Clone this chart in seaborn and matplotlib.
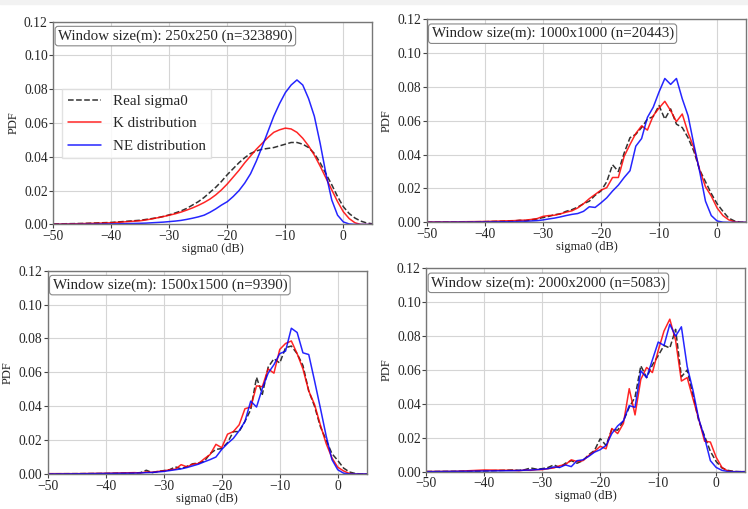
import numpy as np
import pandas as pd
import matplotlib
matplotlib.use("Agg")
import matplotlib.pyplot as plt
import seaborn as sns

# sigma0 grid (dB) shared by all panels
sigma0_db = [-50, -45, -40] + list(range(-35, 6))

titles = [
    "Window size(m): 250x250 (n=323890)",
    "Window size(m): 1000x1000 (n=20443)",
    "Window size(m): 1500x1500 (n=9390)",
    "Window size(m): 2000x2000 (n=5083)",
]

# --- 250x250 ---
real_250 = [0.0003, 0.0006, 0.0012, 0.0025, 0.003, 0.0035, 0.004, 0.0048, 0.0057, 0.0068,
            0.008, 0.0095, 0.0115, 0.0135, 0.016, 0.019, 0.022, 0.0255, 0.0295, 0.033,
            0.0365, 0.0395, 0.042, 0.0435, 0.0445, 0.045, 0.0455, 0.0465, 0.0475, 0.0485,
            0.0485, 0.0475, 0.0455, 0.042, 0.0365, 0.03, 0.0235, 0.0165, 0.0105, 0.0065,
            0.0038, 0.002, 0.0009, 0.0004]
k_250 = [0.0002, 0.0005, 0.001, 0.0022, 0.0027, 0.0033, 0.004, 0.0047, 0.0055, 0.0063,
         0.0073, 0.0085, 0.0098, 0.0113, 0.013, 0.015, 0.0175, 0.0205, 0.024, 0.028,
         0.032, 0.0365, 0.0405, 0.0445, 0.048, 0.0515, 0.0545, 0.056, 0.057, 0.0565,
         0.0545, 0.051, 0.0465, 0.041, 0.0345, 0.0275, 0.0205, 0.0135, 0.0075, 0.0035,
         0.001, 0.0, 0.0, 0.0]
ne_250 = [0.0, 0.0001, 0.0003, 0.0007, 0.0008, 0.001, 0.0012, 0.0014, 0.0017, 0.002,
          0.0024, 0.003, 0.0037, 0.0045, 0.0055, 0.0072, 0.0092, 0.0115, 0.0135, 0.0165,
          0.02, 0.0245, 0.03, 0.0375, 0.046, 0.055, 0.064, 0.0715, 0.078, 0.0825,
          0.0855, 0.0825, 0.0745, 0.064, 0.048, 0.03, 0.0145, 0.0055, 0.0015, 0.0003,
          0.0, 0.0, 0.0, 0.0]

# --- 1000x1000 ---
real_1000 = [0.0001, 0.0002, 0.0004, 0.0008, 0.0012, 0.001, 0.0015, 0.002, 0.0028, 0.0035,
             0.0045, 0.005, 0.0065, 0.0075, 0.009, 0.011, 0.0125, 0.016, 0.0185, 0.024,
             0.034, 0.03, 0.041, 0.05, 0.052, 0.056, 0.061, 0.0625, 0.069, 0.061,
             0.067, 0.058, 0.056, 0.05, 0.042, 0.031, 0.024, 0.017, 0.011, 0.0065,
             0.0025, 0.0008, 0.0001, 0.0]
k_1000 = [0.0002, 0.0003, 0.0005, 0.001, 0.0012, 0.0013, 0.0017, 0.0022, 0.0035, 0.004,
          0.0042, 0.005, 0.006, 0.0068, 0.0085, 0.011, 0.014, 0.0165, 0.019, 0.0205,
          0.0265, 0.0265, 0.039, 0.046, 0.0525, 0.057, 0.0545, 0.063, 0.0675, 0.0715,
          0.066, 0.0595, 0.064, 0.053, 0.044, 0.031, 0.021, 0.0155, 0.0085, 0.004,
          0.0015, 0.0003, 0.0, 0.0]
ne_1000 = [0.0, 0.0001, 0.0002, 0.0004, 0.0005, 0.0006, 0.0008, 0.001, 0.0014, 0.002,
           0.0025, 0.0032, 0.004, 0.0047, 0.0052, 0.0065, 0.0092, 0.0088, 0.0115, 0.0145,
           0.0185, 0.022, 0.0265, 0.0305, 0.045, 0.0495, 0.062, 0.068, 0.077, 0.085,
           0.0815, 0.085, 0.073, 0.063, 0.046, 0.03, 0.0125, 0.004, 0.0008, 0.0001,
           0.0, 0.0, 0.0, 0.0]

# --- 1500x1500 ---
real_1500 = [0.0001, 0.0002, 0.0003, 0.0006, 0.0008, 0.0022, 0.0008, 0.0015, 0.002, 0.0025,
             0.0042, 0.003, 0.0045, 0.006, 0.0065, 0.0075, 0.012, 0.0145, 0.015, 0.0185,
             0.025, 0.025, 0.031, 0.038, 0.057, 0.047, 0.063, 0.068, 0.0655, 0.0745,
             0.0755, 0.071, 0.064, 0.049, 0.04, 0.028, 0.02, 0.012, 0.008, 0.0035,
             0.0012, 0.0003, 0.0, 0.0]
k_1500 = [0.0002, 0.0002, 0.0004, 0.0008, 0.0006, 0.0012, 0.001, 0.0015, 0.0018, 0.0025,
          0.0028, 0.0055, 0.0042, 0.0058, 0.0062, 0.009, 0.0115, 0.0175, 0.0155, 0.0235,
          0.025, 0.029, 0.0385, 0.0395, 0.052, 0.0515, 0.062, 0.0595, 0.0735, 0.077,
          0.0785, 0.071, 0.062, 0.049, 0.041, 0.029, 0.018, 0.0095, 0.004, 0.0018,
          0.0003, 0.0, 0.0, 0.0]
ne_1500 = [0.0, 0.0001, 0.0003, 0.0005, 0.0006, 0.0008, 0.0009, 0.0012, 0.0015, 0.002,
           0.0025, 0.003, 0.0038, 0.0048, 0.0058, 0.0072, 0.0085, 0.01, 0.0145, 0.018,
           0.021, 0.0255, 0.031, 0.043, 0.0395, 0.0505, 0.0595, 0.0645, 0.071, 0.0725,
           0.086, 0.0835, 0.0715, 0.0705, 0.055, 0.039, 0.0225, 0.0085, 0.0025, 0.0005,
           0.0, 0.0, 0.0, 0.0]

# --- 2000x2000 ---
real_2000 = [0.0001, 0.0002, 0.0004, 0.001, 0.0008, 0.0012, 0.0022, 0.0015, 0.0018, 0.0025,
             0.004, 0.0025, 0.005, 0.0065, 0.005, 0.0065, 0.01, 0.0125, 0.0195, 0.0155,
             0.025, 0.0245, 0.03, 0.038, 0.044, 0.0625, 0.0555, 0.063, 0.0685, 0.0745,
             0.073, 0.084, 0.056, 0.06, 0.045, 0.03, 0.021, 0.012, 0.006, 0.0022,
             0.0008, 0.0002, 0.0, 0.0]
k_2000 = [0.0001, 0.0002, 0.001, 0.0008, 0.0006, 0.001, 0.0008, 0.0012, 0.0012, 0.0018,
          0.0022, 0.0035, 0.0042, 0.007, 0.006, 0.0065, 0.0095, 0.012, 0.015, 0.0135,
          0.0255, 0.0225, 0.0285, 0.049, 0.0335, 0.0545, 0.0615, 0.0585, 0.0715, 0.083,
          0.09, 0.0775, 0.0535, 0.0555, 0.043, 0.031, 0.018, 0.0175, 0.0085, 0.0025,
          0.0004, 0.0, 0.0, 0.0]
ne_2000 = [0.0, 0.0002, 0.0004, 0.0006, 0.0007, 0.0009, 0.001, 0.0012, 0.0015, 0.0018,
           0.0028, 0.0025, 0.004, 0.003, 0.0065, 0.007, 0.009, 0.0115, 0.013, 0.0155,
           0.0225, 0.027, 0.03, 0.039, 0.038, 0.0595, 0.0555, 0.066, 0.0765, 0.0745,
           0.087, 0.08, 0.0855, 0.062, 0.048, 0.031, 0.02, 0.0065, 0.0025, 0.0008,
           0.0001, 0.0, 0.0, 0.0]

panels = [
    (real_250, k_250, ne_250),
    (real_1000, k_1000, ne_1000),
    (real_1500, k_1500, ne_1500),
    (real_2000, k_2000, ne_2000),
]

# axes rectangles (left, bottom, width, height) in figure fractions
rects = [
    [0.0713, 0.5590, 0.4265, 0.3985],
    [0.5705, 0.5632, 0.4270, 0.3990],
    [0.0638, 0.0688, 0.4265, 0.3995],
    [0.5700, 0.0733, 0.4262, 0.3995],
]

sns.set_theme(style="whitegrid")
plt.rcParams['font.family'] = ['Liberation Serif', 'DejaVu Serif']

fig = plt.figure(figsize=(7.48, 5.09), dpi=100)
fig.patches.append(plt.Rectangle((0, 0.992), 1, 0.008, transform=fig.transFigure,
                                 color='#f2f2f2', zorder=0))

for i, (real, kd, ne) in enumerate(panels):
    ax = fig.add_axes(rects[i])
    df = pd.DataFrame({'x': sigma0_db, 'real': real, 'k': kd, 'ne': ne})
    sns.lineplot(data=df, x='x', y='real', ax=ax, color='#333333', lw=1.1,
                 linestyle='--', label='Real sigma0')
    sns.lineplot(data=df, x='x', y='k', ax=ax, color='red', lw=1.1, alpha=0.85,
                 label='K distribution')
    sns.lineplot(data=df, x='x', y='ne', ax=ax, color='blue', lw=1.1, alpha=0.85,
                 label='NE distribution')
    ax.set_xlim(-50, 5)
    ax.set_ylim(0, 0.12)
    ax.set_xticks([-50, -40, -30, -20, -10, 0])
    ax.set_yticks(np.arange(0, 0.121, 0.02))
    ax.yaxis.set_major_formatter(matplotlib.ticker.FormatStrFormatter('%.2f'))
    ax.set_xticklabels(['\u221250', '\u221240', '\u221230', '\u221220', '\u221210', '0'])
    ax.set_xlabel('sigma0 (dB)', fontsize=9, labelpad=0)
    ax.set_ylabel('PDF', fontsize=9, labelpad=3)
    ax.tick_params(labelsize=9.8, length=3, width=0.8, color='#444444', pad=1,
                   bottom=True, left=True)
    ax.grid(True, color='#d5d5d5', lw=0.8)
    for sp in ax.spines.values():
        sp.set_color('#777777')
        sp.set_linewidth(1.0)
    ax.text(0.015, 0.962, titles[i], transform=ax.transAxes, fontsize=10.8,
            va='top', ha='left',
            bbox=dict(boxstyle='round,pad=0.2', fc='white', ec='#888888', lw=0.8))
    if i == 0:
        ax.legend(loc='upper left', bbox_to_anchor=(0.028, 0.667), fontsize=10.8,
                  fancybox=False, edgecolor='#dddddd', framealpha=0.85,
                  handlelength=2.2, borderpad=0.35, labelspacing=0.6,
                  handletextpad=0.8, borderaxespad=0)
    else:
        ax.get_legend().remove()

fig.savefig('out.png', dpi=100)
